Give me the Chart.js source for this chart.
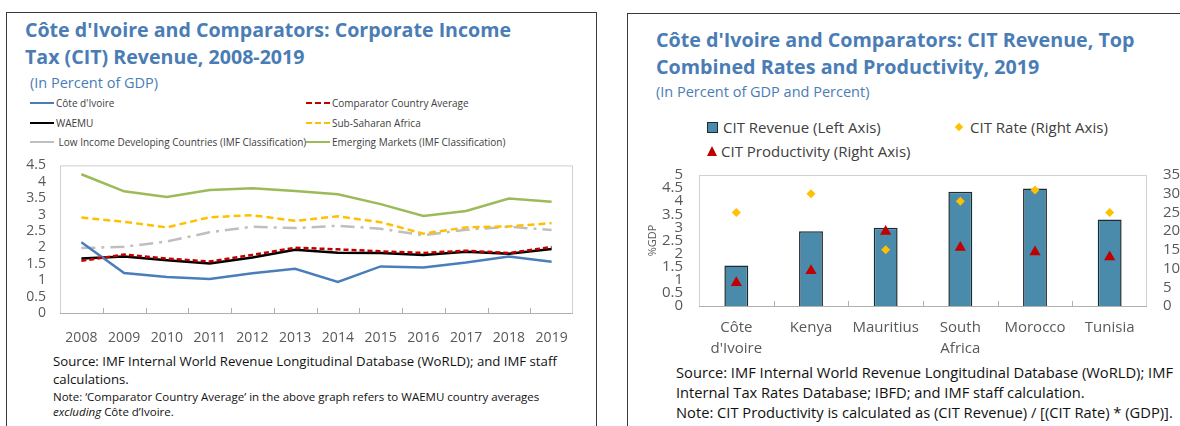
<!DOCTYPE html>
<html>
<head>
<meta charset="utf-8">
<script src="https://cdn.jsdelivr.net/npm/chart.js@4.4.1/dist/chart.umd.min.js"></script>
<style>
  body { margin: 0; width: 1180px; height: 426px; overflow: hidden; background: #fff; font-family: "Open Sans", sans-serif; position: relative; }
  .box { position: absolute; border: 1px solid #3a3a3a; }
  .abs { position: absolute; white-space: nowrap; }
  .title { color: #4a7db5; font-weight: bold; font-size: 19.6px; line-height: 27px; }
  .sub { color: #4a7db5; font-size: 14.5px; }
  .lg { font-size: 10px; color: #404040; display: flex; align-items: center; }
  .lg i { display: inline-block; width: 24px; margin-right: 2px; }
  .lg2 { font-size: 15px; color: #404040; display: flex; align-items: center; }
  .src { font-size: 13.2px; color: #111; line-height: 18px; }
  .note { font-size: 11.5px; color: #111; line-height: 15px; }
  .src2 { font-size: 14.7px; color: #111; line-height: 20px; }
</style>
</head>
<body>
<div class="box" style="left:6px;top:12px;width:589px;height:430px;"></div>
<div class="box" style="left:627px;top:13px;width:600px;height:430px;"></div>

<div class="abs title" style="left:25px;top:16px;">Côte d'Ivoire and Comparators: Corporate Income<br>Tax (CIT) Revenue, 2008-2019</div>
<div class="abs sub" style="left:30px;top:73px;">(In Percent of GDP)</div>

<div class="abs lg" style="left:30px;top:96px;"><i style="border-top:2.5px solid #4a7ebb"></i>Côte d'Ivoire</div>
<div class="abs lg" style="left:30px;top:116px;"><i style="border-top:2.5px solid #000"></i>WAEMU</div>
<div class="abs lg" style="left:30px;top:135px;"><i style="border-top:2.5px solid #bfbfbf"></i>&nbsp;Low Income Developing Countries (IMF Classification)</div>
<div class="abs lg" style="left:306px;top:96px;"><i style="border-top:2.5px dashed #c00000"></i>Comparator Country Average</div>
<div class="abs lg" style="left:306px;top:116px;"><i style="border-top:2.5px dashed #ffc000"></i>Sub-Saharan Africa</div>
<div class="abs lg" style="left:306px;top:135px;"><i style="border-top:2.5px solid #9bbb59"></i>Emerging Markets (IMF Classification)</div>

<div class="abs" style="left:10px;top:143px;width:580px;height:207px;"><canvas id="lineChart"></canvas></div>

<div class="abs src" style="left:53px;top:352px;">Source: IMF Internal World Revenue Longitudinal Database (WoRLD); and IMF staff<br>calculations.</div>
<div class="abs note" style="left:53px;top:389px;">Note: ‘Comparator Country Average’ in the above graph refers to WAEMU country averages<br><em>excluding</em> Côte d’Ivoire.</div>

<div class="abs title" style="left:656px;top:26px;font-size:19.7px;">Côte d'Ivoire and Comparators: CIT Revenue, Top<br>Combined Rates and Productivity, 2019</div>
<div class="abs sub" style="left:656px;top:82px;">(In Percent of GDP and Percent)</div>

<div class="abs lg2" style="left:707px;top:117px;"><span style="display:inline-block;width:9px;height:9px;background:#4a8aab;border:1px solid #1f2a30;margin-right:5px"></span>CIT Revenue (Left Axis)</div>
<div class="abs lg2" style="left:956px;top:117px;"><span style="display:inline-block;width:6px;height:6px;background:#ffc000;transform:rotate(45deg);margin-right:8px"></span>CIT Rate (Right Axis)</div>
<div class="abs lg2" style="left:707px;top:141px;"><span style="display:inline-block;width:0;height:0;border-left:5.5px solid transparent;border-right:5.5px solid transparent;border-bottom:10px solid #c00000;margin-right:4px"></span>CIT Productivity (Right Axis)</div>

<div class="abs" style="left:627px;top:150px;width:553px;height:210px;"><canvas id="barChart"></canvas></div>

<div class="abs src2" style="left:676px;top:362px;">Source: IMF Internal World Revenue Longitudinal Database (WoRLD); IMF<br>Internal Tax Rates Database; IBFD; and IMF staff calculation.<br>Note: CIT Productivity is calculated as (CIT Revenue) / [(CIT Rate) * (GDP)].</div>

<script>
const years = ['2008', '2009', '2010', '2011', '2012', '2013', '2014', '2015', '2016', '2017', '2018', '2019'];
const coteDivoire = [2.16, 1.22, 1.10, 1.04, 1.21, 1.35, 0.95, 1.42, 1.39, 1.54, 1.72, 1.56];
const comparatorAvg = [1.59, 1.78, 1.66, 1.57, 1.77, 1.99, 1.94, 1.88, 1.83, 1.90, 1.83, 2.01];
const waemu = [1.66, 1.72, 1.61, 1.51, 1.69, 1.93, 1.84, 1.83, 1.77, 1.87, 1.81, 1.95];
const subSaharan = [2.91, 2.78, 2.61, 2.92, 2.98, 2.81, 2.95, 2.77, 2.42, 2.61, 2.64, 2.74];
const lowIncome = [1.98, 2.02, 2.18, 2.46, 2.63, 2.59, 2.66, 2.57, 2.37, 2.54, 2.63, 2.53];
const emerging = [4.23, 3.71, 3.54, 3.75, 3.80, 3.72, 3.62, 3.32, 2.96, 3.11, 3.49, 3.39];

const countries = [['Côte', "d'Ivoire"], 'Kenya', 'Mauritius', ['South', 'Africa'], 'Morocco', 'Tunisia'];
const citRevenue = [1.55, 2.85, 2.99, 4.36, 4.48, 3.30];
const citRate = [25, 30, 15, 28, 31, 25];
const citProductivity = [6.2, 9.4, 19.9, 15.6, 14.4, 13.1];

// plot frame plus small tick marks between categories
const framePlugin = {
    id: 'frame',
    beforeDatasetsDraw(chart) {
        const { ctx, chartArea: a, scales } = chart;
        ctx.save();
        ctx.lineWidth = 1;
        ctx.strokeStyle = '#d0d0d0';
        ctx.strokeRect(a.left + 0.5, a.top + 0.5, a.right - a.left - 1, a.bottom - a.top);
        ctx.strokeStyle = '#b0b0b0';
        ctx.beginPath();
        ctx.moveTo(a.left, a.bottom + 0.5);
        ctx.lineTo(a.right, a.bottom + 0.5);
        const x = scales.x;
        const step = x.getPixelForValue(1) - x.getPixelForValue(0);
        for (let i = 1; i < x.ticks.length; i++) {
            const px = Math.round(x.getPixelForValue(i) - step / 2) + 0.5;
            ctx.moveTo(px, a.bottom);
            ctx.lineTo(px, a.bottom - 5);
        }
        ctx.stroke();
        ctx.restore();
    }
};

const tickFont = { family: 'Open Sans', size: 14 };
const plainNum = v => String(v);

new Chart(document.getElementById('lineChart'), {
    type: 'line',
    data: {
        labels: years,
        datasets: [
            { label: 'Comparator Country Average', data: comparatorAvg, borderColor: '#c00000', borderDash: [5, 3], borderWidth: 2.5 },
            { label: "Côte d'Ivoire", data: coteDivoire, borderColor: '#4a7ebb', borderWidth: 2.5 },
            { label: 'WAEMU', data: waemu, borderColor: '#000000', borderWidth: 2.5 },
            { label: 'Sub-Saharan Africa', data: subSaharan, borderColor: '#ffc000', borderDash: [7, 4], borderWidth: 2.5 },
            { label: 'Low Income Developing Countries (IMF Classification)', data: lowIncome, borderColor: '#bfbfbf', borderDash: [14, 6, 3, 6], borderWidth: 2.5 },
            { label: 'Emerging Markets (IMF Classification)', data: emerging, borderColor: '#9bbb59', borderWidth: 2.5 }
        ]
    },
    options: {
        responsive: true,
        maintainAspectRatio: false,
        animation: false,
        elements: { point: { radius: 0 }, line: { tension: 0 } },
        layout: { padding: { top: 6, right: 17, bottom: 0, left: 0 } },
        plugins: { legend: { display: false }, tooltip: { enabled: false } },
        scales: {
            x: {
                offset: true,
                grid: { display: false, drawTicks: false },
                border: { display: false },
                ticks: { font: tickFont, color: '#595959', padding: 17, maxRotation: 0 },
                afterFit(scale) { scale.height = 37; }
            },
            y: {
                min: 0, max: 4.5,
                grid: { display: false, drawTicks: false },
                border: { display: false },
                ticks: { stepSize: 0.5, autoSkip: false, font: tickFont, color: '#595959', padding: 14, callback: plainNum },
                afterFit(scale) { scale.width = 50; }
            }
        }
    },
    plugins: [framePlugin]
});

new Chart(document.getElementById('barChart'), {
    type: 'bar',
    data: {
        labels: countries,
        datasets: [
            { type: 'line', label: 'CIT Rate (Right Axis)', data: citRate, yAxisID: 'y1', showLine: false, pointStyle: 'rectRot', pointRadius: 4.5, pointBackgroundColor: '#ffc000', pointBorderWidth: 0, order: 1 },
            { type: 'line', label: 'CIT Productivity (Right Axis)', data: citProductivity, yAxisID: 'y1', showLine: false, pointStyle: 'triangle', pointRadius: 6.5, pointBackgroundColor: '#c00000', pointBorderWidth: 0, order: 2 },
            { label: 'CIT Revenue (Left Axis)', data: citRevenue, yAxisID: 'y', backgroundColor: '#4a8aab', borderColor: '#1f2a30', borderWidth: 1.5, categoryPercentage: 1, barPercentage: 0.32, order: 3 }
        ]
    },
    options: {
        responsive: true,
        maintainAspectRatio: false,
        animation: false,
        layout: { padding: { top: 3, right: 0, bottom: 0, left: 0 } },
        plugins: { legend: { display: false }, tooltip: { enabled: false } },
        scales: {
            x: {
                grid: { display: false, drawTicks: false },
                border: { display: false },
                ticks: { font: { family: 'Open Sans', size: 15, lineHeight: 1.4 }, color: '#595959', padding: 11, maxRotation: 0, autoSkip: false },
                afterFit(scale) { scale.height = 54; }
            },
            y: {
                position: 'left',
                min: 0, max: 5,
                grid: { display: false, drawTicks: false },
                border: { display: false },
                title: { display: true, text: '%GDP', font: { family: 'Open Sans', size: 11 }, color: '#595959', padding: { top: 19, bottom: 0 } },
                ticks: { stepSize: 0.5, autoSkip: false, font: { family: 'Open Sans', size: 15 }, color: '#595959', padding: 16, callback: plainNum },
                afterFit(scale) { scale.width = 72; }
            },
            y1: {
                position: 'right',
                min: 0, max: 35,
                grid: { display: false, drawTicks: false },
                border: { display: false },
                ticks: { stepSize: 5, autoSkip: false, font: { family: 'Open Sans', size: 15 }, color: '#595959', padding: 16, callback: plainNum },
                afterFit(scale) { scale.width = 33; }
            }
        }
    },
    plugins: [framePlugin]
});
</script>
</body>
</html>
